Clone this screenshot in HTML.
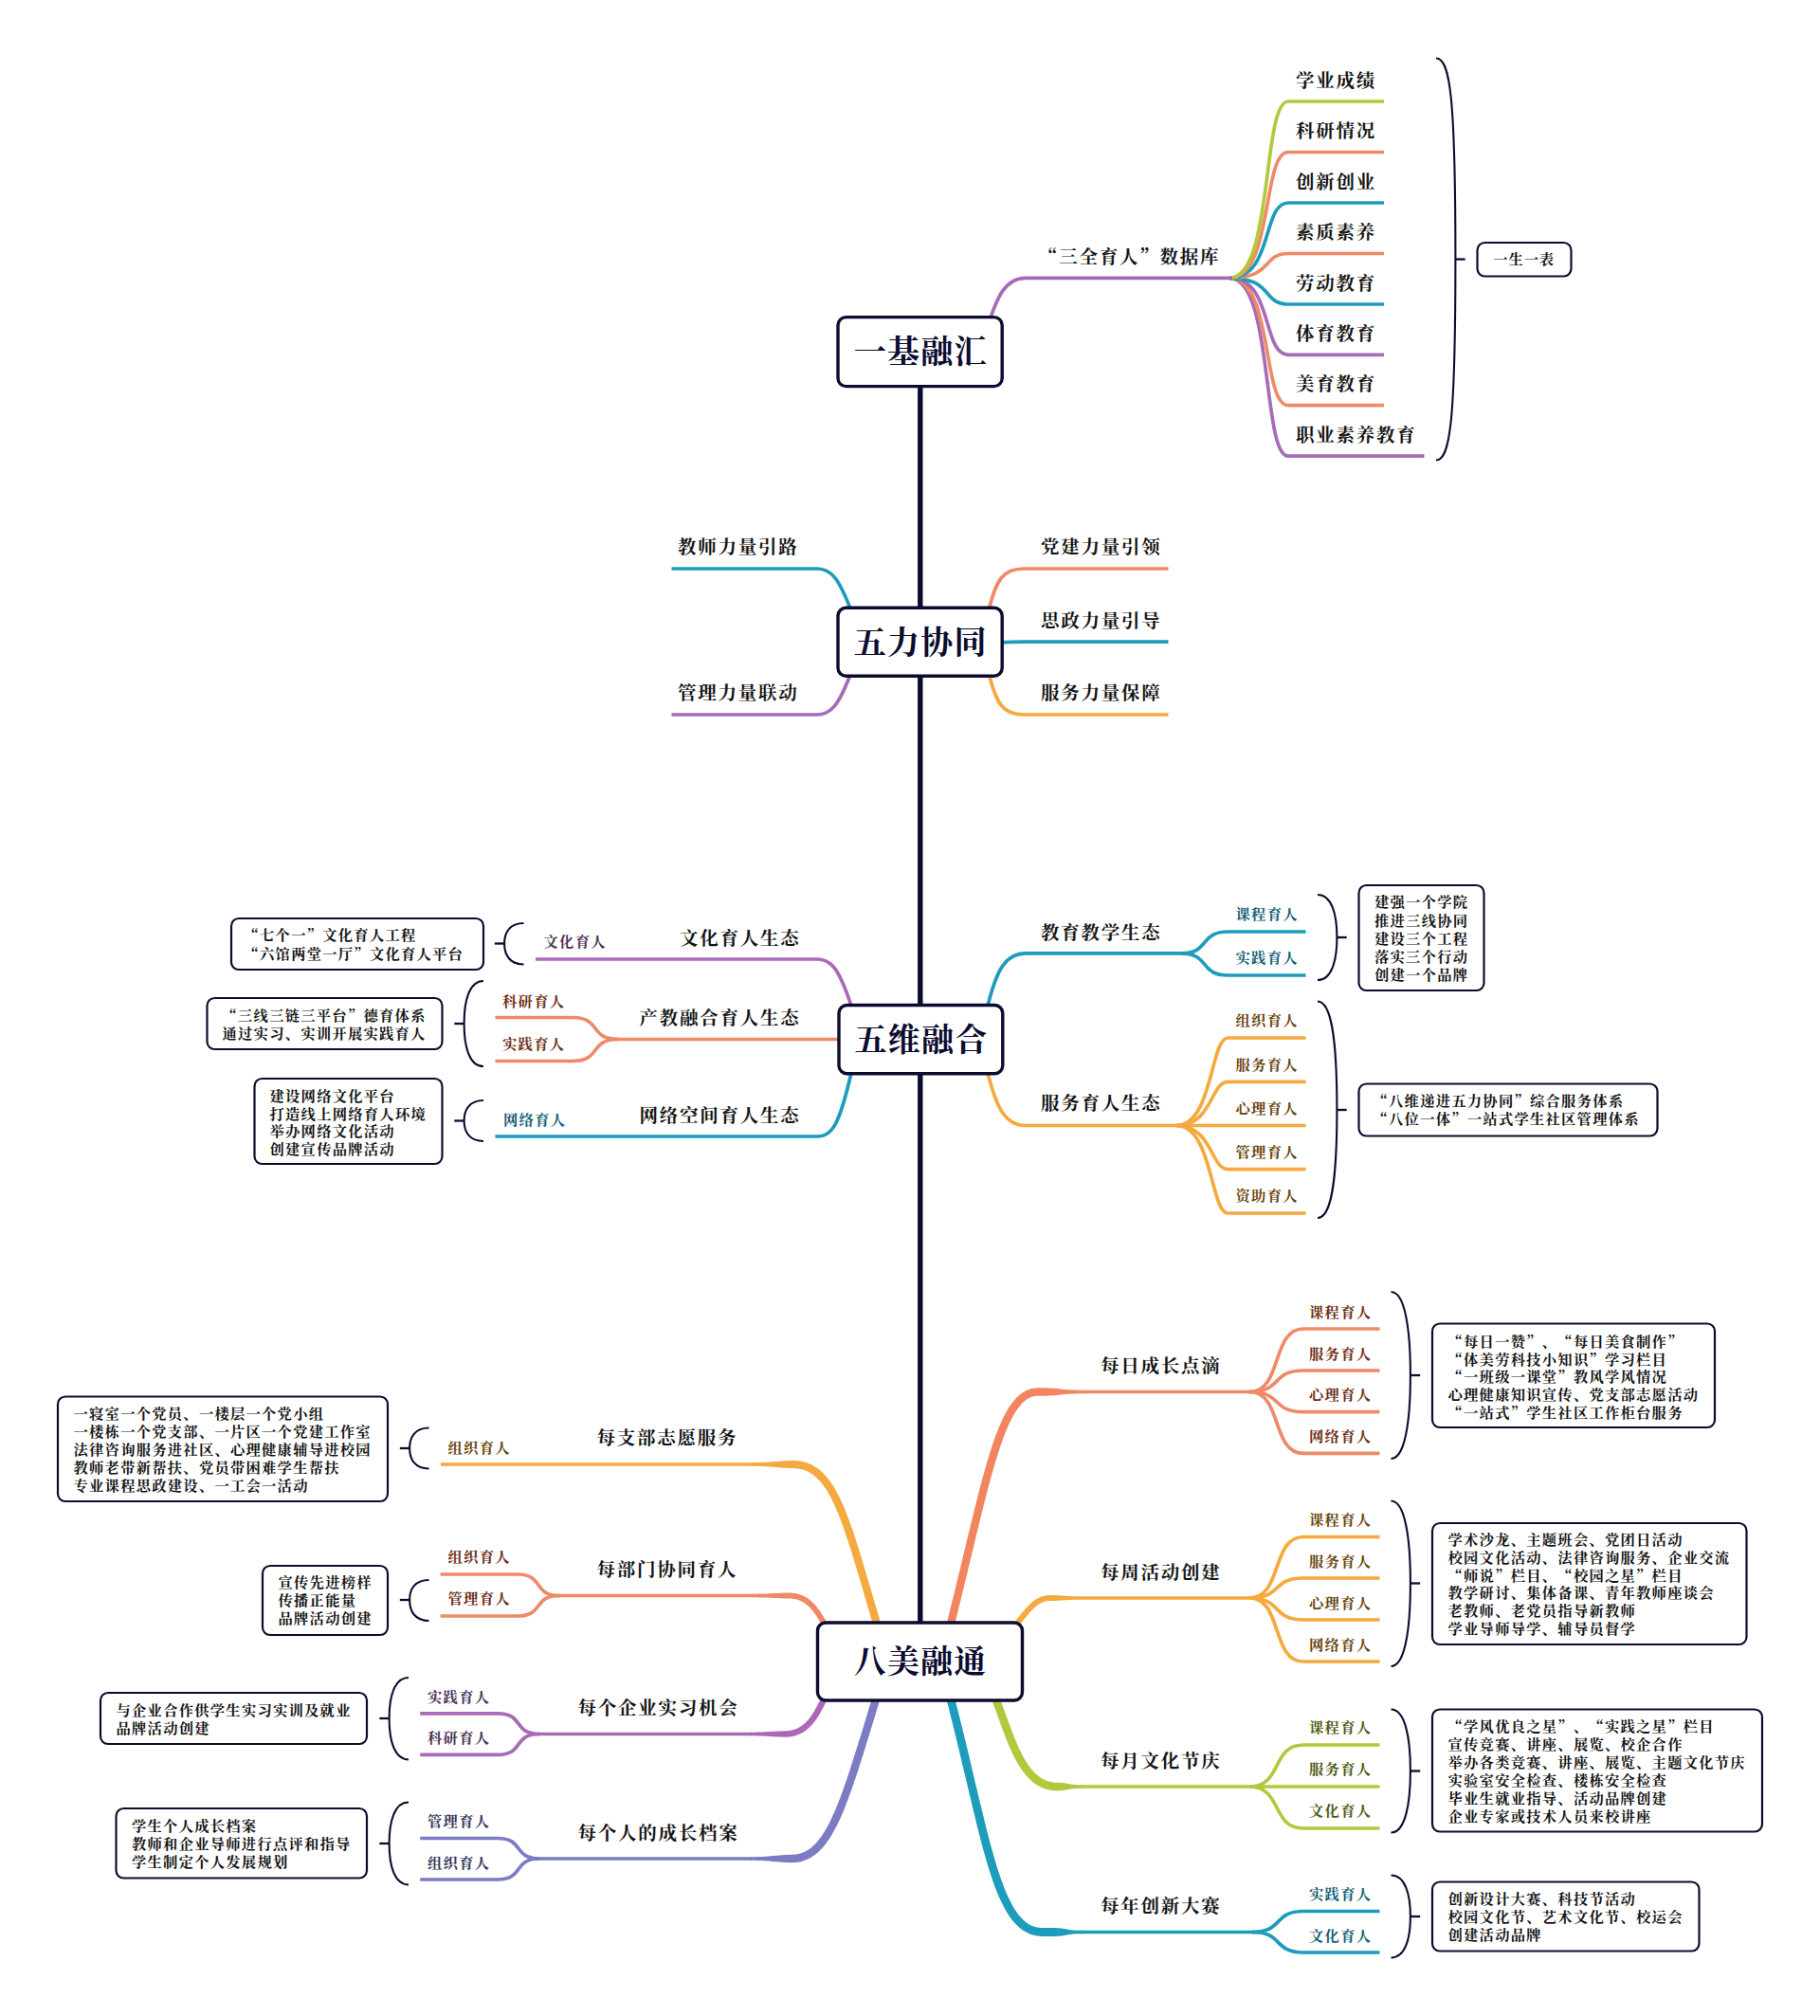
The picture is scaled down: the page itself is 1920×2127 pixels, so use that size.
<!DOCTYPE html>
<html lang="zh-CN"><head><meta charset="utf-8"><title>三全育人 思维导图</title>
<style>
html,body{margin:0;padding:0;background:#fff}
svg{display:block}
text{font-family:'Noto Serif CJK SC','Liberation Serif',serif;font-weight:700;font-kerning:none;font-feature-settings:"palt" 0,"halt" 0,"chws" 0,"kern" 0;white-space:pre}
</style></head><body>
<svg width="1920" height="2127" viewBox="0 0 1920 2127">
<rect width="1920" height="2127" fill="#fff"/>
<g>
<path d="M970.8,405 L970.8,1714" fill="none" stroke="#0c0c30" stroke-width="5.4" stroke-linecap="butt" stroke-linejoin="round"/>
<path d="M1297,293.3 C1343.5,293.3 1331.1,481.2 1359,481.2 L1502.5,481.2" fill="none" stroke="#a86bb8" stroke-width="3.7" stroke-linecap="butt" stroke-linejoin="round"/>
<path d="M1297,293.3 C1343.5,293.3 1331.1,427.7 1359,427.7 L1460,427.7" fill="none" stroke="#ee8a68" stroke-width="3.7" stroke-linecap="butt" stroke-linejoin="round"/>
<path d="M1297,293.3 C1343.5,293.3 1331.1,374.3 1359,374.3 L1460,374.3" fill="none" stroke="#a86bb8" stroke-width="3.7" stroke-linecap="butt" stroke-linejoin="round"/>
<path d="M1297,293.3 C1343.5,293.3 1331.1,321 1359,321 L1460,321" fill="none" stroke="#1d9cbb" stroke-width="3.7" stroke-linecap="butt" stroke-linejoin="round"/>
<path d="M1297,293.3 C1343.5,293.3 1331.1,267.5 1359,267.5 L1460,267.5" fill="none" stroke="#ee8a68" stroke-width="3.7" stroke-linecap="butt" stroke-linejoin="round"/>
<path d="M1297,293.3 C1343.5,293.3 1331.1,214 1359,214 L1460,214" fill="none" stroke="#1d9cbb" stroke-width="3.7" stroke-linecap="butt" stroke-linejoin="round"/>
<path d="M1297,293.3 C1343.5,293.3 1331.1,160.5 1359,160.5 L1460,160.5" fill="none" stroke="#ee8a68" stroke-width="3.7" stroke-linecap="butt" stroke-linejoin="round"/>
<path d="M1297,293.3 C1343.5,293.3 1331.1,107 1359,107 L1460,107" fill="none" stroke="#b2c93c" stroke-width="3.7" stroke-linecap="butt" stroke-linejoin="round"/>
<path d="M1045,335 C1052,315 1060,293.3 1082,293.3 L1300,293.3" fill="none" stroke="#a86bb8" stroke-width="3.7" stroke-linecap="butt" stroke-linejoin="round"/>
<path d="M708.5,600 L862,600 C877,600 885,611 897,642" fill="none" stroke="#1d9cbb" stroke-width="3.7" stroke-linecap="butt" stroke-linejoin="round"/>
<path d="M708.5,754 L862,754 C877,754 885,743 897,712" fill="none" stroke="#a86bb8" stroke-width="3.7" stroke-linecap="butt" stroke-linejoin="round"/>
<path d="M1043.5,642 C1051,612 1058,600 1080,600 L1232.5,600" fill="none" stroke="#ee8a68" stroke-width="3.7" stroke-linecap="butt" stroke-linejoin="round"/>
<path d="M1057,677.6 C1065,677.6 1070,677.2 1080,677.2 L1232.5,677.2" fill="none" stroke="#1d9cbb" stroke-width="3.7" stroke-linecap="butt" stroke-linejoin="round"/>
<path d="M1043.5,712 C1051,742 1058,754 1080,754 L1232.5,754" fill="none" stroke="#f5a93e" stroke-width="3.7" stroke-linecap="butt" stroke-linejoin="round"/>
<path d="M565,1012 L862,1012 C877,1012 885,1022 898,1061" fill="none" stroke="#a86bb8" stroke-width="3.7" stroke-linecap="butt" stroke-linejoin="round"/>
<path d="M884,1096.5 L650,1096.5" fill="none" stroke="#ee8a68" stroke-width="3.7" stroke-linecap="butt" stroke-linejoin="round"/>
<path d="M652,1096.5 C621.3,1096.5 634.7,1073.5 604,1073.5 L522.5,1073.5" fill="none" stroke="#ee8a68" stroke-width="3.7" stroke-linecap="butt" stroke-linejoin="round"/>
<path d="M652,1096.5 C621.3,1096.5 634.7,1119.5 604,1119.5 L522.5,1119.5" fill="none" stroke="#ee8a68" stroke-width="3.7" stroke-linecap="butt" stroke-linejoin="round"/>
<path d="M522.5,1199 L862,1199 C877,1199 885,1189 898,1132" fill="none" stroke="#1d9cbb" stroke-width="3.7" stroke-linecap="butt" stroke-linejoin="round"/>
<path d="M1042,1061 C1050,1030 1058,1005.9 1082,1005.9 L1248,1005.9" fill="none" stroke="#1d9cbb" stroke-width="3.7" stroke-linecap="butt" stroke-linejoin="round"/>
<path d="M1246,1005.9 C1276.7,1005.9 1264.8,983 1295.5,983 L1377.5,983" fill="none" stroke="#1d9cbb" stroke-width="3.7" stroke-linecap="butt" stroke-linejoin="round"/>
<path d="M1246,1005.9 C1276.7,1005.9 1264.8,1029 1295.5,1029 L1377.5,1029" fill="none" stroke="#1d9cbb" stroke-width="3.7" stroke-linecap="butt" stroke-linejoin="round"/>
<path d="M1042,1132 C1050,1163 1058,1187.5 1082,1187.5 L1243,1187.5" fill="none" stroke="#f5a93e" stroke-width="3.7" stroke-linecap="butt" stroke-linejoin="round"/>
<path d="M1241,1187.5 C1279.2,1187.5 1277,1095 1295.5,1095 L1377.5,1095" fill="none" stroke="#f5a93e" stroke-width="3.7" stroke-linecap="butt" stroke-linejoin="round"/>
<path d="M1241,1187.5 C1279.2,1187.5 1277,1141.3 1295.5,1141.3 L1377.5,1141.3" fill="none" stroke="#f5a93e" stroke-width="3.7" stroke-linecap="butt" stroke-linejoin="round"/>
<path d="M1241,1187.5 C1279.2,1187.5 1277,1187.5 1295.5,1187.5 L1377.5,1187.5" fill="none" stroke="#f5a93e" stroke-width="3.7" stroke-linecap="butt" stroke-linejoin="round"/>
<path d="M1241,1187.5 C1279.2,1187.5 1277,1233.7 1295.5,1233.7 L1377.5,1233.7" fill="none" stroke="#f5a93e" stroke-width="3.7" stroke-linecap="butt" stroke-linejoin="round"/>
<path d="M1241,1187.5 C1279.2,1187.5 1277,1280 1295.5,1280 L1377.5,1280" fill="none" stroke="#f5a93e" stroke-width="3.7" stroke-linecap="butt" stroke-linejoin="round"/>
<path d="M928.9,1711.8 L927.3,1706.3 L925.7,1700.9 L924.1,1695.6 L922.6,1690.4 L921.1,1685.2 L919.6,1680.2 L918.2,1675.2 L916.7,1670.3 L915.3,1665.5 L913.9,1660.9 L912.6,1656.2 L911.2,1651.7 L909.9,1647.3 L908.6,1643 L907.3,1638.7 L906,1634.6 L904.7,1630.5 L903.4,1626.5 L902.2,1622.6 L900.9,1618.8 L899.7,1615.1 L898.4,1611.5 L897.2,1607.9 L895.9,1604.5 L894.7,1601.1 L893.4,1597.9 L892.2,1594.7 L890.9,1591.6 L889.6,1588.6 L888.4,1585.7 L887.1,1582.9 L885.8,1580.1 L884.4,1577.5 L883.1,1574.9 L881.7,1572.5 L880.4,1570.1 L878.9,1567.8 L877.5,1565.6 L876.1,1563.4 L874.6,1561.4 L873,1559.5 L871.5,1557.6 L869.9,1555.9 L868.3,1554.2 L866.6,1552.6 L864.9,1551.1 L863.1,1549.7 L861.3,1548.4 L859.4,1547.2 L857.5,1546.1 L855.6,1545.1 L853.6,1544.2 L851.6,1543.5 L849.5,1542.8 L847.3,1542.2 L845.2,1541.7 L842.9,1541.4 L840.7,1541.1 L838.4,1541 L836,1540.9 L832,1541 L828,1541.3 L824,1541.6 L820,1541.9 L816,1542.2 L812,1542.6 L808,1542.8 L804,1543 L800,1543.1 L796,1543.2 L793,1543.2 L793,1546.8 L796,1546.8 L800,1546.9 L804,1547 L808,1547.2 L812,1547.4 L816,1547.8 L820,1548.1 L824,1548.4 L828,1548.7 L832,1549 L836,1549.1 L838,1549.1 L839.9,1549.3 L841.8,1549.5 L843.6,1549.8 L845.4,1550.2 L847.1,1550.6 L848.8,1551.2 L850.4,1551.8 L852,1552.5 L853.6,1553.3 L855.2,1554.2 L856.7,1555.2 L858.2,1556.3 L859.6,1557.4 L861.1,1558.7 L862.5,1560 L863.9,1561.5 L865.3,1563 L866.7,1564.6 L868,1566.4 L869.4,1568.2 L870.7,1570.1 L872,1572.1 L873.3,1574.3 L874.6,1576.5 L875.9,1578.8 L877.1,1581.2 L878.4,1583.7 L879.6,1586.3 L880.9,1589.1 L882.1,1591.9 L883.3,1594.8 L884.6,1597.8 L885.8,1600.9 L887,1604 L888.2,1607.3 L889.5,1610.7 L890.7,1614.2 L891.9,1617.7 L893.1,1621.4 L894.4,1625.2 L895.6,1629 L896.9,1633 L898.2,1637 L899.4,1641.1 L900.7,1645.4 L902,1649.7 L903.4,1654.1 L904.7,1658.6 L906.1,1663.2 L907.5,1667.9 L908.9,1672.6 L910.3,1677.5 L911.7,1682.5 L913.2,1687.5 L914.7,1692.7 L916.3,1697.9 L917.8,1703.2 L919.4,1708.7 L921.1,1714.2Z" fill="#f5a93e" stroke="none"/>
<path d="M795,1545 L465,1545" fill="none" stroke="#f5a93e" stroke-width="3.7" stroke-linecap="butt" stroke-linejoin="round"/>
<path d="M872.1,1711.5 L871.7,1710.8 L871.3,1710 L870.8,1709.3 L870.4,1708.5 L869.9,1707.8 L869.5,1707 L869.1,1706.3 L868.6,1705.5 L868.2,1704.8 L867.7,1704 L867.2,1703.3 L866.8,1702.6 L866.3,1701.8 L865.8,1701.1 L865.4,1700.4 L864.9,1699.7 L864.4,1699 L863.9,1698.3 L863.3,1697.6 L862.8,1696.9 L862.3,1696.2 L861.8,1695.5 L861.2,1694.8 L860.7,1694.2 L860.1,1693.5 L859.5,1692.9 L858.9,1692.3 L858.3,1691.6 L857.7,1691 L857.1,1690.4 L856.5,1689.9 L855.9,1689.3 L855.2,1688.7 L854.5,1688.2 L853.8,1687.7 L853.2,1687.1 L852.4,1686.6 L851.7,1686.1 L851,1685.7 L850.2,1685.2 L849.5,1684.8 L848.7,1684.4 L847.9,1684 L847.1,1683.6 L846.3,1683.2 L845.4,1682.9 L844.6,1682.6 L843.7,1682.3 L842.8,1682 L841.9,1681.7 L841,1681.5 L840.1,1681.3 L839.1,1681.1 L838.1,1681 L837.2,1680.8 L836.2,1680.7 L835.1,1680.6 L834.1,1680.6 L833.1,1680.5 L832,1680.5 L828,1680.6 L824,1680.7 L820,1680.9 L816,1681.1 L812,1681.3 L808,1681.5 L804,1681.6 L800,1681.6 L796,1681.7 L793,1681.7 L793,1685.3 L796,1685.3 L800,1685.4 L804,1685.4 L808,1685.5 L812,1685.7 L816,1685.9 L820,1686.1 L824,1686.3 L828,1686.4 L832,1686.5 L832.9,1686.5 L833.8,1686.5 L834.7,1686.6 L835.6,1686.7 L836.4,1686.8 L837.2,1686.9 L838,1687 L838.8,1687.2 L839.6,1687.3 L840.4,1687.5 L841.1,1687.8 L841.8,1688 L842.5,1688.2 L843.2,1688.5 L843.9,1688.8 L844.6,1689.1 L845.3,1689.4 L845.9,1689.7 L846.6,1690 L847.2,1690.4 L847.8,1690.8 L848.4,1691.2 L849,1691.6 L849.6,1692 L850.2,1692.4 L850.8,1692.9 L851.4,1693.3 L851.9,1693.8 L852.5,1694.3 L853,1694.8 L853.5,1695.3 L854.1,1695.8 L854.6,1696.4 L855.1,1696.9 L855.6,1697.5 L856.1,1698.1 L856.6,1698.7 L857.1,1699.3 L857.6,1699.9 L858.1,1700.5 L858.5,1701.1 L859,1701.8 L859.5,1702.4 L859.9,1703.1 L860.4,1703.7 L860.8,1704.4 L861.3,1705.1 L861.7,1705.8 L862.2,1706.5 L862.6,1707.2 L863,1707.9 L863.5,1708.6 L863.9,1709.3 L864.3,1710.1 L864.8,1710.8 L865.2,1711.5 L865.6,1712.3 L866,1713 L866.5,1713.7 L866.9,1714.5Z" fill="#ee8a68" stroke="none"/>
<path d="M795,1683.5 L588,1683.5" fill="none" stroke="#ee8a68" stroke-width="3.7" stroke-linecap="butt" stroke-linejoin="round"/>
<path d="M590,1683.5 C561.8,1683.5 574.2,1661 546,1661 L464.6,1661" fill="none" stroke="#ee8a68" stroke-width="3.7" stroke-linecap="butt" stroke-linejoin="round"/>
<path d="M590,1683.5 C561.8,1683.5 574.2,1705 546,1705 L464.6,1705" fill="none" stroke="#ee8a68" stroke-width="3.7" stroke-linecap="butt" stroke-linejoin="round"/>
<path d="M866.1,1791.6 L865.6,1792.5 L865.2,1793.5 L864.7,1794.4 L864.3,1795.3 L863.8,1796.3 L863.4,1797.2 L862.9,1798.1 L862.4,1799 L862,1799.9 L861.5,1800.8 L861,1801.6 L860.5,1802.5 L860.1,1803.4 L859.6,1804.2 L859.1,1805.1 L858.6,1805.9 L858.1,1806.7 L857.6,1807.5 L857.1,1808.3 L856.6,1809.1 L856,1809.9 L855.5,1810.6 L855,1811.4 L854.4,1812.1 L853.9,1812.8 L853.3,1813.5 L852.8,1814.2 L852.2,1814.9 L851.6,1815.5 L851,1816.1 L850.4,1816.8 L849.8,1817.4 L849.2,1817.9 L848.6,1818.5 L847.9,1819.1 L847.3,1819.6 L846.7,1820.1 L846,1820.6 L845.3,1821.1 L844.6,1821.5 L843.9,1822 L843.2,1822.4 L842.5,1822.8 L841.8,1823.2 L841.1,1823.5 L840.3,1823.9 L839.5,1824.2 L838.7,1824.5 L837.9,1824.7 L837.1,1825 L836.3,1825.2 L835.5,1825.4 L834.6,1825.6 L833.7,1825.8 L832.8,1825.9 L831.9,1826 L830.9,1826.1 L830,1826.2 L829,1826.2 L828,1826.3 L824,1826.4 L820,1826.6 L816,1826.8 L812,1827 L808,1827.3 L804,1827.5 L800,1827.6 L796,1827.7 L792,1827.7 L791,1827.7 L791,1831.3 L792,1831.3 L796,1831.3 L800,1831.4 L804,1831.5 L808,1831.7 L812,1832 L816,1832.2 L820,1832.4 L824,1832.6 L828,1832.7 L829.2,1832.7 L830.3,1832.7 L831.5,1832.6 L832.6,1832.5 L833.7,1832.4 L834.8,1832.2 L835.9,1832 L836.9,1831.8 L838,1831.5 L839,1831.2 L840,1830.9 L841,1830.6 L841.9,1830.2 L842.9,1829.8 L843.8,1829.4 L844.7,1829 L845.6,1828.5 L846.5,1828 L847.3,1827.5 L848.2,1827 L849,1826.4 L849.8,1825.9 L850.6,1825.3 L851.4,1824.7 L852.1,1824 L852.9,1823.4 L853.6,1822.7 L854.3,1822 L855,1821.3 L855.7,1820.6 L856.4,1819.9 L857.1,1819.1 L857.7,1818.4 L858.4,1817.6 L859,1816.8 L859.6,1816 L860.2,1815.2 L860.8,1814.4 L861.4,1813.6 L862,1812.7 L862.5,1811.9 L863.1,1811 L863.6,1810.1 L864.2,1809.3 L864.7,1808.4 L865.2,1807.5 L865.7,1806.6 L866.2,1805.7 L866.7,1804.8 L867.2,1803.8 L867.7,1802.9 L868.2,1802 L868.7,1801 L869.2,1800.1 L869.6,1799.2 L870.1,1798.2 L870.6,1797.3 L871,1796.3 L871.5,1795.3 L871.9,1794.4Z" fill="#ad66b8" stroke="none"/>
<path d="M793,1829.5 L567,1829.5" fill="none" stroke="#a86bb8" stroke-width="3.7" stroke-linecap="butt" stroke-linejoin="round"/>
<path d="M569,1829.5 C540.8,1829.5 553.2,1807.8 525,1807.8 L443.2,1807.8" fill="none" stroke="#a86bb8" stroke-width="3.7" stroke-linecap="butt" stroke-linejoin="round"/>
<path d="M569,1829.5 C540.8,1829.5 553.2,1851.4 525,1851.4 L443.2,1851.4" fill="none" stroke="#a86bb8" stroke-width="3.7" stroke-linecap="butt" stroke-linejoin="round"/>
<path d="M920,1791.8 L918.3,1797.3 L916.6,1802.7 L915,1808 L913.4,1813.3 L911.9,1818.4 L910.3,1823.4 L908.8,1828.4 L907.3,1833.3 L905.8,1838.1 L904.4,1842.7 L902.9,1847.3 L901.5,1851.8 L900.1,1856.2 L898.7,1860.6 L897.4,1864.8 L896,1868.9 L894.7,1872.9 L893.4,1876.9 L892,1880.7 L890.7,1884.5 L889.4,1888.2 L888.2,1891.7 L886.9,1895.2 L885.6,1898.6 L884.3,1901.9 L883,1905.1 L881.8,1908.2 L880.5,1911.2 L879.2,1914.1 L877.9,1916.9 L876.7,1919.6 L875.4,1922.2 L874.1,1924.7 L872.8,1927.1 L871.5,1929.4 L870.2,1931.7 L868.9,1933.8 L867.6,1935.8 L866.3,1937.8 L864.9,1939.6 L863.6,1941.3 L862.2,1943 L860.9,1944.5 L859.5,1945.9 L858.1,1947.3 L856.7,1948.5 L855.3,1949.7 L853.9,1950.8 L852.5,1951.7 L851,1952.6 L849.6,1953.4 L848.1,1954.1 L846.6,1954.8 L845,1955.3 L843.4,1955.8 L841.8,1956.1 L840.2,1956.4 L838.5,1956.6 L836.8,1956.8 L835,1956.8 L831,1956.9 L827,1957.1 L823,1957.4 L819,1957.8 L815,1958.1 L811,1958.5 L807,1958.8 L803,1959 L799,1959.1 L795,1959.2 L791,1959.2 L791,1962.8 L795,1962.8 L799,1962.9 L803,1963 L807,1963.2 L811,1963.5 L815,1963.9 L819,1964.2 L823,1964.6 L827,1964.9 L831,1965.1 L835,1965.2 L837.2,1965.1 L839.3,1965 L841.4,1964.7 L843.5,1964.4 L845.6,1963.9 L847.6,1963.3 L849.5,1962.6 L851.5,1961.8 L853.4,1960.9 L855.2,1959.9 L857,1958.8 L858.8,1957.6 L860.5,1956.3 L862.2,1954.9 L863.9,1953.4 L865.5,1951.8 L867.1,1950.2 L868.6,1948.4 L870.2,1946.6 L871.7,1944.6 L873.1,1942.6 L874.6,1940.5 L876,1938.3 L877.4,1936 L878.8,1933.6 L880.2,1931.1 L881.5,1928.6 L882.9,1925.9 L884.2,1923.2 L885.6,1920.4 L886.9,1917.5 L888.2,1914.5 L889.5,1911.4 L890.8,1908.2 L892.1,1904.9 L893.4,1901.6 L894.7,1898.1 L896,1894.6 L897.3,1891 L898.7,1887.3 L900,1883.5 L901.3,1879.6 L902.7,1875.6 L904,1871.5 L905.4,1867.4 L906.7,1863.1 L908.1,1858.8 L909.5,1854.4 L911,1849.8 L912.4,1845.2 L913.8,1840.5 L915.3,1835.7 L916.8,1830.9 L918.3,1825.9 L919.9,1820.8 L921.5,1815.7 L923.1,1810.5 L924.7,1805.1 L926.3,1799.7 L928,1794.2Z" fill="#7c7cc4" stroke="none"/>
<path d="M793,1961 L567,1961" fill="none" stroke="#7c7cc4" stroke-width="3.7" stroke-linecap="butt" stroke-linejoin="round"/>
<path d="M569,1961 C540.8,1961 553.2,1939.5 525,1939.5 L443.2,1939.5" fill="none" stroke="#7c7cc4" stroke-width="3.7" stroke-linecap="butt" stroke-linejoin="round"/>
<path d="M569,1961 C540.8,1961 553.2,1983 525,1983 L443.2,1983" fill="none" stroke="#7c7cc4" stroke-width="3.7" stroke-linecap="butt" stroke-linejoin="round"/>
<path d="M1007.1,1714 L1009,1706.5 L1010.8,1699.1 L1012.6,1691.8 L1014.4,1684.6 L1016.1,1677.5 L1017.8,1670.4 L1019.5,1663.5 L1021.1,1656.7 L1022.7,1650 L1024.3,1643.4 L1025.9,1636.9 L1027.4,1630.6 L1028.9,1624.3 L1030.4,1618.1 L1031.9,1612.1 L1033.3,1606.1 L1034.7,1600.3 L1036.1,1594.6 L1037.5,1589 L1038.9,1583.5 L1040.3,1578.2 L1041.6,1572.9 L1043,1567.8 L1044.3,1562.8 L1045.7,1557.9 L1047,1553.2 L1048.3,1548.5 L1049.6,1544 L1050.9,1539.6 L1052.3,1535.4 L1053.6,1531.3 L1054.9,1527.3 L1056.2,1523.4 L1057.5,1519.7 L1058.9,1516.1 L1060.2,1512.6 L1061.5,1509.3 L1062.9,1506.1 L1064.2,1503.1 L1065.6,1500.2 L1067,1497.4 L1068.4,1494.8 L1069.8,1492.3 L1071.2,1490 L1072.6,1487.8 L1074,1485.8 L1075.4,1483.9 L1076.9,1482.2 L1078.3,1480.6 L1079.8,1479.2 L1081.2,1477.9 L1082.7,1476.8 L1084.2,1475.8 L1085.7,1475 L1087.2,1474.3 L1088.7,1473.7 L1090.2,1473.3 L1091.8,1473 L1093.4,1472.8 L1095.1,1472.7 L1099,1472.7 L1103,1472.7 L1107,1472.6 L1111,1472.3 L1115,1471.9 L1119,1471.5 L1123,1471.1 L1127,1470.8 L1131,1470.5 L1135,1470.4 L1139,1470.3 L1142,1470.3 L1142,1466.7 L1139,1466.7 L1135,1466.6 L1131,1466.5 L1127,1466.2 L1123,1465.9 L1119,1465.5 L1115,1465.1 L1111,1464.7 L1107,1464.4 L1103,1464.3 L1099,1464.3 L1094.9,1464.3 L1092.7,1464.4 L1090.4,1464.7 L1088.2,1465.1 L1086,1465.8 L1083.9,1466.6 L1081.8,1467.5 L1079.8,1468.7 L1077.8,1470 L1075.9,1471.4 L1074.1,1473 L1072.3,1474.8 L1070.6,1476.7 L1068.9,1478.7 L1067.2,1480.8 L1065.6,1483.1 L1064,1485.5 L1062.5,1488.1 L1061,1490.8 L1059.5,1493.6 L1058,1496.5 L1056.6,1499.6 L1055.2,1502.8 L1053.8,1506.1 L1052.4,1509.5 L1051,1513.1 L1049.6,1516.8 L1048.3,1520.6 L1046.9,1524.6 L1045.6,1528.7 L1044.2,1532.9 L1042.9,1537.2 L1041.6,1541.6 L1040.2,1546.2 L1038.9,1550.9 L1037.6,1555.7 L1036.2,1560.6 L1034.9,1565.6 L1033.5,1570.8 L1032.2,1576.1 L1030.8,1581.5 L1029.4,1587 L1028,1592.6 L1026.6,1598.3 L1025.1,1604.2 L1023.7,1610.1 L1022.2,1616.2 L1020.7,1622.3 L1019.2,1628.6 L1017.7,1635 L1016.1,1641.5 L1014.6,1648.1 L1013,1654.8 L1011.3,1661.6 L1009.6,1668.5 L1007.9,1675.5 L1006.2,1682.6 L1004.4,1689.8 L1002.6,1697.1 L1000.8,1704.5 L998.9,1712Z" fill="#f2855f" stroke="none"/>
<path d="M1140,1468.5 L1320,1468.5" fill="none" stroke="#ee8a68" stroke-width="3.7" stroke-linecap="butt" stroke-linejoin="round"/>
<path d="M1318,1468.5 C1353.3,1468.5 1340.8,1402 1375,1402 L1455.5,1402" fill="none" stroke="#ee8a68" stroke-width="3.7" stroke-linecap="butt" stroke-linejoin="round"/>
<path d="M1318,1468.5 C1353.3,1468.5 1340.8,1446 1375,1446 L1455.5,1446" fill="none" stroke="#ee8a68" stroke-width="3.7" stroke-linecap="butt" stroke-linejoin="round"/>
<path d="M1318,1468.5 C1353.3,1468.5 1340.8,1489.7 1375,1489.7 L1455.5,1489.7" fill="none" stroke="#ee8a68" stroke-width="3.7" stroke-linecap="butt" stroke-linejoin="round"/>
<path d="M1318,1468.5 C1353.3,1468.5 1340.8,1533.3 1375,1533.3 L1455.5,1533.3" fill="none" stroke="#ee8a68" stroke-width="3.7" stroke-linecap="butt" stroke-linejoin="round"/>
<path d="M1075.3,1714.9 L1075.9,1714.1 L1076.5,1713.4 L1077.1,1712.6 L1077.7,1711.9 L1078.3,1711.2 L1078.8,1710.5 L1079.4,1709.7 L1080,1709 L1080.5,1708.3 L1081.1,1707.7 L1081.6,1707 L1082.1,1706.3 L1082.7,1705.7 L1083.2,1705 L1083.7,1704.4 L1084.3,1703.7 L1084.8,1703.1 L1085.3,1702.5 L1085.8,1701.9 L1086.3,1701.3 L1086.8,1700.7 L1087.3,1700.2 L1087.9,1699.6 L1088.4,1699.1 L1088.9,1698.5 L1089.4,1698 L1089.9,1697.5 L1090.4,1697 L1090.9,1696.6 L1091.4,1696.1 L1091.9,1695.6 L1092.4,1695.2 L1092.9,1694.8 L1093.4,1694.4 L1093.9,1694 L1094.4,1693.6 L1094.9,1693.2 L1095.4,1692.9 L1096,1692.6 L1096.5,1692.2 L1097,1691.9 L1097.5,1691.6 L1098,1691.4 L1098.6,1691.1 L1099.1,1690.8 L1099.7,1690.6 L1100.2,1690.4 L1100.7,1690.2 L1101.3,1690 L1101.9,1689.8 L1102.4,1689.7 L1103,1689.5 L1103.6,1689.4 L1104.2,1689.3 L1104.8,1689.2 L1105.4,1689.1 L1106,1689.1 L1106.7,1689 L1107.3,1689 L1108,1689 L1112,1688.9 L1116,1688.7 L1120,1688.5 L1124,1688.2 L1128,1687.9 L1132,1687.8 L1136,1687.8 L1138,1687.8 L1138,1684.2 L1136,1684.2 L1132,1684.2 L1128,1684.1 L1124,1683.8 L1120,1683.5 L1116,1683.3 L1112,1683.1 L1108,1683 L1107.2,1683 L1106.4,1683 L1105.6,1683.1 L1104.8,1683.2 L1104,1683.3 L1103.2,1683.4 L1102.4,1683.5 L1101.7,1683.7 L1100.9,1683.9 L1100.2,1684.1 L1099.5,1684.3 L1098.8,1684.5 L1098.1,1684.8 L1097.4,1685.1 L1096.7,1685.4 L1096,1685.7 L1095.3,1686 L1094.7,1686.4 L1094,1686.7 L1093.4,1687.1 L1092.7,1687.5 L1092.1,1687.9 L1091.5,1688.3 L1090.9,1688.8 L1090.3,1689.2 L1089.7,1689.7 L1089.1,1690.2 L1088.5,1690.6 L1087.9,1691.1 L1087.4,1691.7 L1086.8,1692.2 L1086.2,1692.7 L1085.7,1693.3 L1085.1,1693.8 L1084.6,1694.4 L1084,1695 L1083.5,1695.5 L1082.9,1696.1 L1082.4,1696.7 L1081.8,1697.4 L1081.3,1698 L1080.7,1698.6 L1080.2,1699.2 L1079.7,1699.9 L1079.1,1700.5 L1078.6,1701.2 L1078,1701.9 L1077.5,1702.5 L1076.9,1703.2 L1076.4,1703.9 L1075.8,1704.6 L1075.3,1705.3 L1074.7,1706 L1074.1,1706.7 L1073.6,1707.5 L1073,1708.2 L1072.4,1708.9 L1071.8,1709.6 L1071.3,1710.4 L1070.7,1711.1Z" fill="#f5a93e" stroke="none"/>
<path d="M1136,1686 L1320,1686" fill="none" stroke="#f5a93e" stroke-width="3.7" stroke-linecap="butt" stroke-linejoin="round"/>
<path d="M1318,1686 C1353.3,1686 1340.8,1621.5 1375,1621.5 L1455.5,1621.5" fill="none" stroke="#f5a93e" stroke-width="3.7" stroke-linecap="butt" stroke-linejoin="round"/>
<path d="M1318,1686 C1353.3,1686 1340.8,1665 1375,1665 L1455.5,1665" fill="none" stroke="#f5a93e" stroke-width="3.7" stroke-linecap="butt" stroke-linejoin="round"/>
<path d="M1318,1686 C1353.3,1686 1340.8,1709 1375,1709 L1455.5,1709" fill="none" stroke="#f5a93e" stroke-width="3.7" stroke-linecap="butt" stroke-linejoin="round"/>
<path d="M1318,1686 C1353.3,1686 1340.8,1753 1375,1753 L1455.5,1753" fill="none" stroke="#f5a93e" stroke-width="3.7" stroke-linecap="butt" stroke-linejoin="round"/>
<path d="M1046.5,1794.6 L1047.3,1796.5 L1048,1798.5 L1048.8,1800.5 L1049.5,1802.5 L1050.3,1804.5 L1051,1806.5 L1051.8,1808.6 L1052.5,1810.7 L1053.3,1812.7 L1054,1814.8 L1054.8,1816.9 L1055.6,1819 L1056.3,1821.1 L1057.1,1823.2 L1057.9,1825.3 L1058.7,1827.4 L1059.5,1829.5 L1060.3,1831.6 L1061.1,1833.7 L1061.9,1835.8 L1062.7,1837.8 L1063.6,1839.9 L1064.4,1841.9 L1065.3,1844 L1066.2,1846 L1067.1,1847.9 L1068,1849.9 L1069,1851.8 L1069.9,1853.7 L1070.9,1855.6 L1071.9,1857.5 L1072.9,1859.3 L1073.9,1861.1 L1075,1862.9 L1076.1,1864.6 L1077.2,1866.3 L1078.4,1867.9 L1079.5,1869.5 L1080.8,1871.1 L1082,1872.6 L1083.3,1874.1 L1084.6,1875.5 L1085.9,1876.8 L1087.3,1878.1 L1088.7,1879.4 L1090.2,1880.6 L1091.7,1881.7 L1093.2,1882.8 L1094.8,1883.8 L1096.4,1884.7 L1098.1,1885.5 L1099.8,1886.3 L1101.6,1887 L1103.4,1887.6 L1105.2,1888.1 L1107.1,1888.5 L1109,1888.9 L1111,1889.1 L1113,1889.3 L1115,1889.3 L1119,1889.2 L1123,1888.7 L1127,1888 L1131,1887.3 L1135,1886.9 L1139,1886.8 L1142,1886.8 L1142,1883.2 L1139,1883.2 L1135,1883.1 L1131,1882.7 L1127,1882 L1123,1881.3 L1119,1880.8 L1115,1880.7 L1113.4,1880.7 L1111.8,1880.5 L1110.3,1880.4 L1108.8,1880.1 L1107.3,1879.8 L1105.9,1879.4 L1104.5,1878.9 L1103.1,1878.4 L1101.8,1877.8 L1100.5,1877.1 L1099.2,1876.4 L1097.9,1875.6 L1096.7,1874.7 L1095.5,1873.8 L1094.3,1872.8 L1093.1,1871.8 L1091.9,1870.7 L1090.8,1869.5 L1089.7,1868.3 L1088.6,1867 L1087.5,1865.7 L1086.4,1864.3 L1085.4,1862.9 L1084.3,1861.4 L1083.3,1859.9 L1082.3,1858.3 L1081.3,1856.7 L1080.4,1855.1 L1079.4,1853.4 L1078.5,1851.6 L1077.6,1849.8 L1076.7,1848 L1075.8,1846.2 L1074.9,1844.3 L1074,1842.4 L1073.2,1840.5 L1072.3,1838.6 L1071.5,1836.6 L1070.7,1834.6 L1069.9,1832.6 L1069.1,1830.6 L1068.3,1828.5 L1067.5,1826.5 L1066.7,1824.4 L1065.9,1822.3 L1065.2,1820.2 L1064.4,1818.2 L1063.6,1816.1 L1062.9,1814 L1062.1,1811.9 L1061.4,1809.8 L1060.6,1807.7 L1059.9,1805.6 L1059.1,1803.6 L1058.4,1801.5 L1057.6,1799.5 L1056.8,1797.4 L1056.1,1795.4 L1055.3,1793.4 L1054.5,1791.4Z" fill="#b2c93c" stroke="none"/>
<path d="M1140,1885 L1320,1885" fill="none" stroke="#b2c93c" stroke-width="3.7" stroke-linecap="butt" stroke-linejoin="round"/>
<path d="M1318,1885 C1353.3,1885 1340.8,1841 1375,1841 L1455.5,1841" fill="none" stroke="#b2c93c" stroke-width="3.7" stroke-linecap="butt" stroke-linejoin="round"/>
<path d="M1318,1885 C1353.3,1885 1340.8,1885 1375,1885 L1455.5,1885" fill="none" stroke="#b2c93c" stroke-width="3.7" stroke-linecap="butt" stroke-linejoin="round"/>
<path d="M1318,1885 C1353.3,1885 1340.8,1929 1375,1929 L1455.5,1929" fill="none" stroke="#b2c93c" stroke-width="3.7" stroke-linecap="butt" stroke-linejoin="round"/>
<path d="M998.7,1794.1 L1000.7,1801.6 L1002.5,1809.1 L1004.4,1816.4 L1006.2,1823.7 L1007.9,1830.8 L1009.6,1837.8 L1011.3,1844.8 L1012.9,1851.6 L1014.5,1858.4 L1016.1,1865 L1017.7,1871.5 L1019.2,1877.9 L1020.7,1884.2 L1022.1,1890.4 L1023.6,1896.5 L1025,1902.5 L1026.4,1908.3 L1027.8,1914.1 L1029.2,1919.7 L1030.5,1925.3 L1031.9,1930.7 L1033.2,1936 L1034.6,1941.2 L1035.9,1946.2 L1037.2,1951.2 L1038.6,1956 L1039.9,1960.7 L1041.2,1965.3 L1042.6,1969.7 L1043.9,1974.1 L1045.3,1978.3 L1046.7,1982.4 L1048,1986.4 L1049.4,1990.2 L1050.8,1993.9 L1052.3,1997.5 L1053.7,2001 L1055.2,2004.3 L1056.7,2007.6 L1058.3,2010.6 L1059.8,2013.6 L1061.5,2016.4 L1063.1,2019.1 L1064.8,2021.7 L1066.5,2024.1 L1068.3,2026.4 L1070.2,2028.6 L1072.1,2030.6 L1074.1,2032.5 L1076.1,2034.3 L1078.2,2035.9 L1080.3,2037.3 L1082.6,2038.6 L1084.9,2039.7 L1087.2,2040.7 L1089.7,2041.5 L1092.2,2042.1 L1094.7,2042.5 L1097.3,2042.8 L1099.9,2042.9 L1104,2042.9 L1108,2042.9 L1112,2042.9 L1116,2042.8 L1120,2042.4 L1124,2041.8 L1128,2041.1 L1132,2040.6 L1136,2040.3 L1140,2040.3 L1142,2040.3 L1142,2036.7 L1140,2036.7 L1136,2036.7 L1132,2036.4 L1128,2035.9 L1124,2035.2 L1120,2034.6 L1116,2034.2 L1112,2034.1 L1108,2034.1 L1104,2034.1 L1100.1,2034.1 L1097.9,2034 L1095.9,2033.8 L1094,2033.5 L1092.1,2033 L1090.3,2032.4 L1088.5,2031.7 L1086.7,2030.9 L1085,2029.9 L1083.3,2028.7 L1081.6,2027.5 L1080,2026 L1078.4,2024.5 L1076.8,2022.8 L1075.2,2020.9 L1073.6,2018.9 L1072.1,2016.7 L1070.5,2014.4 L1069,2012 L1067.6,2009.4 L1066.1,2006.6 L1064.7,2003.7 L1063.2,2000.7 L1061.8,1997.5 L1060.4,1994.2 L1059,1990.7 L1057.7,1987.1 L1056.3,1983.4 L1055,1979.6 L1053.6,1975.6 L1052.3,1971.4 L1051,1967.2 L1049.7,1962.8 L1048.4,1958.3 L1047.1,1953.6 L1045.7,1948.8 L1044.4,1943.9 L1043.1,1938.9 L1041.8,1933.8 L1040.4,1928.5 L1039.1,1923.1 L1037.7,1917.6 L1036.4,1912 L1035,1906.3 L1033.6,1900.4 L1032.1,1894.5 L1030.7,1888.4 L1029.2,1882.2 L1027.7,1875.9 L1026.2,1869.5 L1024.7,1862.9 L1023.1,1856.3 L1021.5,1849.6 L1019.9,1842.7 L1018.2,1835.8 L1016.5,1828.7 L1014.7,1821.6 L1012.9,1814.3 L1011.1,1806.9 L1009.2,1799.5 L1007.3,1791.9Z" fill="#1d9cbb" stroke="none"/>
<path d="M1140,2038.5 L1323,2038.5" fill="none" stroke="#1d9cbb" stroke-width="3.7" stroke-linecap="butt" stroke-linejoin="round"/>
<path d="M1321,2038.5 C1354.5,2038.5 1342.6,2016.5 1375,2016.5 L1455.5,2016.5" fill="none" stroke="#1d9cbb" stroke-width="3.7" stroke-linecap="butt" stroke-linejoin="round"/>
<path d="M1321,2038.5 C1354.5,2038.5 1342.6,2060 1375,2060 L1455.5,2060" fill="none" stroke="#1d9cbb" stroke-width="3.7" stroke-linecap="butt" stroke-linejoin="round"/>
</g>
<g>
<text x="1096" y="277.5" font-size="19.5" fill="#141414" letter-spacing="1.75">“三全育人”数据库</text>
<text x="1367" y="91.7" font-size="19.5" fill="#141414" letter-spacing="1.75">学业成绩</text>
<text x="1367" y="145.2" font-size="19.5" fill="#141414" letter-spacing="1.75">科研情况</text>
<text x="1367" y="198.7" font-size="19.5" fill="#141414" letter-spacing="1.75">创新创业</text>
<text x="1367" y="252.2" font-size="19.5" fill="#141414" letter-spacing="1.75">素质素养</text>
<text x="1367" y="305.7" font-size="19.5" fill="#141414" letter-spacing="1.75">劳动教育</text>
<text x="1367" y="359" font-size="19.5" fill="#141414" letter-spacing="1.75">体育教育</text>
<text x="1367" y="412.4" font-size="19.5" fill="#141414" letter-spacing="1.75">美育教育</text>
<text x="1367" y="465.9" font-size="19.5" fill="#141414" letter-spacing="1.75">职业素养教育</text>
<path d="M1515,61.5 C1529.7,61.5 1535.4,101.5 1535.4,273.5 C1535.4,445.5 1529.7,485.5 1515,485.5" fill="none" stroke="#0c0c30" stroke-width="2.1" stroke-linecap="butt" stroke-linejoin="round"/>
<path d="M1535.4,273.5 L1545.7,273.5" fill="none" stroke="#0c0c30" stroke-width="2.3" stroke-linecap="butt" stroke-linejoin="round"/>
<rect x="1558.5" y="256" width="99" height="35.5" rx="8" ry="8" fill="#fff" stroke="#0c0c30" stroke-width="2.2"/>
<text x="1575.5" y="279.3" font-size="15" fill="#141414" letter-spacing="1.20">一生一表</text>
<text x="715" y="584" font-size="19.5" fill="#141414" letter-spacing="1.75">教师力量引路</text>
<text x="715" y="738" font-size="19.5" fill="#141414" letter-spacing="1.75">管理力量联动</text>
<text x="1098" y="584" font-size="19.5" fill="#141414" letter-spacing="1.75">党建力量引领</text>
<text x="1098" y="661.5" font-size="19.5" fill="#141414" letter-spacing="1.75">思政力量引导</text>
<text x="1098" y="738" font-size="19.5" fill="#141414" letter-spacing="1.75">服务力量保障</text>
<text x="717" y="996.5" font-size="19.5" fill="#141414" letter-spacing="1.75">文化育人生态</text>
<text x="573.5" y="999.4" font-size="15.3" fill="#4a3055" letter-spacing="1.30">文化育人</text>
<path d="M552.5,974 C537.8,974 532.1,983.7 532.1,995.5 C532.1,1007.6 537.8,1017.5 552.5,1017.5" fill="none" stroke="#0c0c30" stroke-width="2.1" stroke-linecap="butt" stroke-linejoin="round"/>
<path d="M532.1,995.5 L521.8,995.5" fill="none" stroke="#0c0c30" stroke-width="2.3" stroke-linecap="butt" stroke-linejoin="round"/>
<rect x="244" y="969" width="266" height="54" rx="8" ry="8" fill="#fff" stroke="#0c0c30" stroke-width="2.2"/>
<text x="257.5" y="992.2" font-size="15.3" fill="#141414" letter-spacing="1.25">“七个一”文化育人工程</text>
<text x="257.5" y="1011.5" font-size="15.3" fill="#141414" letter-spacing="1.25">“六馆两堂一厅”文化育人平台</text>
<text x="674.5" y="1081" font-size="19.5" fill="#141414" letter-spacing="1.75">产教融合育人生态</text>
<text x="530" y="1061.9" font-size="15.3" fill="#6c2d14" letter-spacing="1.30">科研育人</text>
<text x="530" y="1107.4" font-size="15.3" fill="#6c2d14" letter-spacing="1.30">实践育人</text>
<path d="M510,1035 C495.3,1035 489.6,1055.2 489.6,1080 C489.6,1104.8 495.3,1125 510,1125" fill="none" stroke="#0c0c30" stroke-width="2.1" stroke-linecap="butt" stroke-linejoin="round"/>
<path d="M489.6,1080 L479.3,1080" fill="none" stroke="#0c0c30" stroke-width="2.3" stroke-linecap="butt" stroke-linejoin="round"/>
<rect x="218.5" y="1053" width="248" height="54" rx="8" ry="8" fill="#fff" stroke="#0c0c30" stroke-width="2.2"/>
<text x="234.5" y="1076.9" font-size="15.3" fill="#141414" letter-spacing="1.25">“三线三链三平台”德育体系</text>
<text x="234.5" y="1096.2" font-size="15.3" fill="#141414" letter-spacing="1.25">通过实习、实训开展实践育人</text>
<text x="674.5" y="1183.5" font-size="19.5" fill="#141414" letter-spacing="1.75">网络空间育人生态</text>
<text x="531" y="1187.4" font-size="15.3" fill="#125f75" letter-spacing="1.30">网络育人</text>
<path d="M510,1161 C495.3,1161 489.6,1170.7 489.6,1182.5 C489.6,1194.3 495.3,1204 510,1204" fill="none" stroke="#0c0c30" stroke-width="2.1" stroke-linecap="butt" stroke-linejoin="round"/>
<path d="M489.6,1182.5 L479.3,1182.5" fill="none" stroke="#0c0c30" stroke-width="2.3" stroke-linecap="butt" stroke-linejoin="round"/>
<rect x="268.5" y="1138" width="198" height="90" rx="8" ry="8" fill="#fff" stroke="#0c0c30" stroke-width="2.2"/>
<text x="284.5" y="1161.9" font-size="15.3" fill="#141414" letter-spacing="1.25">建设网络文化平台</text>
<text x="284.5" y="1180.6" font-size="15.3" fill="#141414" letter-spacing="1.25">打造线上网络育人环境</text>
<text x="284.5" y="1199.3" font-size="15.3" fill="#141414" letter-spacing="1.25">举办网络文化活动</text>
<text x="284.5" y="1218" font-size="15.3" fill="#141414" letter-spacing="1.25">创建宣传品牌活动</text>
<text x="1098" y="990.5" font-size="19.5" fill="#141414" letter-spacing="1.75">教育教学生态</text>
<text x="1303.5" y="969.9" font-size="15.3" fill="#125f75" letter-spacing="1.30">课程育人</text>
<text x="1303.5" y="1016.4" font-size="15.3" fill="#125f75" letter-spacing="1.30">实践育人</text>
<path d="M1390,944 C1404.7,944 1410.4,964.2 1410.4,989 C1410.4,1013.8 1404.7,1034 1390,1034" fill="none" stroke="#0c0c30" stroke-width="2.1" stroke-linecap="butt" stroke-linejoin="round"/>
<path d="M1410.4,989 L1420.7,989" fill="none" stroke="#0c0c30" stroke-width="2.3" stroke-linecap="butt" stroke-linejoin="round"/>
<rect x="1433.5" y="934" width="132" height="111" rx="8" ry="8" fill="#fff" stroke="#0c0c30" stroke-width="2.2"/>
<text x="1450" y="957.4" font-size="15.3" fill="#141414" letter-spacing="1.25">建强一个学院</text>
<text x="1450" y="976.6" font-size="15.3" fill="#141414" letter-spacing="1.25">推进三线协同</text>
<text x="1450" y="995.8" font-size="15.3" fill="#141414" letter-spacing="1.25">建设三个工程</text>
<text x="1450" y="1015" font-size="15.3" fill="#141414" letter-spacing="1.25">落实三个行动</text>
<text x="1450" y="1034.2" font-size="15.3" fill="#141414" letter-spacing="1.25">创建一个品牌</text>
<text x="1303.5" y="1082.4" font-size="15.3" fill="#68440c" letter-spacing="1.30">组织育人</text>
<text x="1303.5" y="1128.7" font-size="15.3" fill="#68440c" letter-spacing="1.30">服务育人</text>
<text x="1303.5" y="1174.9" font-size="15.3" fill="#68440c" letter-spacing="1.30">心理育人</text>
<text x="1303.5" y="1221.1" font-size="15.3" fill="#68440c" letter-spacing="1.30">管理育人</text>
<text x="1303.5" y="1267.4" font-size="15.3" fill="#68440c" letter-spacing="1.30">资助育人</text>
<text x="1098" y="1171" font-size="19.5" fill="#141414" letter-spacing="1.75">服务育人生态</text>
<path d="M1390,1056.5 C1404.7,1056.5 1410.4,1096.5 1410.4,1171 C1410.4,1245 1404.7,1285 1390,1285" fill="none" stroke="#0c0c30" stroke-width="2.1" stroke-linecap="butt" stroke-linejoin="round"/>
<path d="M1410.4,1171 L1420.7,1171" fill="none" stroke="#0c0c30" stroke-width="2.3" stroke-linecap="butt" stroke-linejoin="round"/>
<rect x="1433.5" y="1143.5" width="315" height="55" rx="8" ry="8" fill="#fff" stroke="#0c0c30" stroke-width="2.2"/>
<text x="1448.5" y="1166.9" font-size="15.3" fill="#141414" letter-spacing="1.25">“八维递进五力协同”综合服务体系</text>
<text x="1448.5" y="1186.1" font-size="15.3" fill="#141414" letter-spacing="1.25">“八位一体”一站式学生社区管理体系</text>
<text x="629.5" y="1524" font-size="19.5" fill="#141414" letter-spacing="1.75">每支部志愿服务</text>
<text x="472.5" y="1532.9" font-size="15.3" fill="#68440c" letter-spacing="1.30">组织育人</text>
<path d="M452.5,1506.5 C437.8,1506.5 432.1,1516.2 432.1,1528 C432.1,1539.8 437.8,1549.5 452.5,1549.5" fill="none" stroke="#0c0c30" stroke-width="2.1" stroke-linecap="butt" stroke-linejoin="round"/>
<path d="M432.1,1528 L421.8,1528" fill="none" stroke="#0c0c30" stroke-width="2.3" stroke-linecap="butt" stroke-linejoin="round"/>
<rect x="61" y="1473.5" width="348" height="110.5" rx="8" ry="8" fill="#fff" stroke="#0c0c30" stroke-width="2.2"/>
<text x="77.5" y="1497.4" font-size="15.3" fill="#141414" letter-spacing="1.25">一寝室一个党员、一楼层一个党小组</text>
<text x="77.5" y="1516.3" font-size="15.3" fill="#141414" letter-spacing="1.25">一楼栋一个党支部、一片区一个党建工作室</text>
<text x="77.5" y="1535.2" font-size="15.3" fill="#141414" letter-spacing="1.25">法律咨询服务进社区、心理健康辅导进校园</text>
<text x="77.5" y="1554.1" font-size="15.3" fill="#141414" letter-spacing="1.25">教师老带新帮扶、党员带困难学生帮扶</text>
<text x="77.5" y="1573" font-size="15.3" fill="#141414" letter-spacing="1.25">专业课程思政建设、一工会一活动</text>
<text x="629.5" y="1663" font-size="19.5" fill="#141414" letter-spacing="1.75">每部门协同育人</text>
<text x="472.5" y="1648.4" font-size="15.3" fill="#6c2d14" letter-spacing="1.30">组织育人</text>
<text x="472.5" y="1692.4" font-size="15.3" fill="#6c2d14" letter-spacing="1.30">管理育人</text>
<path d="M452.5,1667 C437.8,1667 432.1,1676.5 432.1,1688 C432.1,1700.1 437.8,1710 452.5,1710" fill="none" stroke="#0c0c30" stroke-width="2.1" stroke-linecap="butt" stroke-linejoin="round"/>
<path d="M432.1,1688 L421.8,1688" fill="none" stroke="#0c0c30" stroke-width="2.3" stroke-linecap="butt" stroke-linejoin="round"/>
<rect x="277" y="1652" width="132" height="73" rx="8" ry="8" fill="#fff" stroke="#0c0c30" stroke-width="2.2"/>
<text x="293.5" y="1675.4" font-size="15.3" fill="#141414" letter-spacing="1.25">宣传先进榜样</text>
<text x="293.5" y="1694.4" font-size="15.3" fill="#141414" letter-spacing="1.25">传播正能量</text>
<text x="293.5" y="1713.4" font-size="15.3" fill="#141414" letter-spacing="1.25">品牌活动创建</text>
<text x="609.5" y="1808.5" font-size="19.5" fill="#141414" letter-spacing="1.75">每个企业实习机会</text>
<text x="451" y="1795.9" font-size="15.3" fill="#4a3055" letter-spacing="1.30">实践育人</text>
<text x="451" y="1839.4" font-size="15.3" fill="#4a3055" letter-spacing="1.30">科研育人</text>
<path d="M431,1770 C416.3,1770 410.6,1789.3 410.6,1813 C410.6,1836.9 416.3,1856.5 431,1856.5" fill="none" stroke="#0c0c30" stroke-width="2.1" stroke-linecap="butt" stroke-linejoin="round"/>
<path d="M410.6,1813 L400.3,1813" fill="none" stroke="#0c0c30" stroke-width="2.3" stroke-linecap="butt" stroke-linejoin="round"/>
<rect x="106" y="1786" width="281" height="54" rx="8" ry="8" fill="#fff" stroke="#0c0c30" stroke-width="2.2"/>
<text x="122.5" y="1809.9" font-size="15.3" fill="#141414" letter-spacing="1.25">与企业合作供学生实习实训及就业</text>
<text x="122.5" y="1828.9" font-size="15.3" fill="#141414" letter-spacing="1.25">品牌活动创建</text>
<text x="609.5" y="1940.5" font-size="19.5" fill="#141414" letter-spacing="1.75">每个人的成长档案</text>
<text x="451" y="1927.4" font-size="15.3" fill="#35355c" letter-spacing="1.30">管理育人</text>
<text x="451" y="1971.4" font-size="15.3" fill="#35355c" letter-spacing="1.30">组织育人</text>
<path d="M431,1901.5 C416.3,1901.5 410.6,1921.1 410.6,1945 C410.6,1968.9 416.3,1988.5 431,1988.5" fill="none" stroke="#0c0c30" stroke-width="2.1" stroke-linecap="butt" stroke-linejoin="round"/>
<path d="M410.6,1945 L400.3,1945" fill="none" stroke="#0c0c30" stroke-width="2.3" stroke-linecap="butt" stroke-linejoin="round"/>
<rect x="122.5" y="1908" width="264.5" height="73.5" rx="8" ry="8" fill="#fff" stroke="#0c0c30" stroke-width="2.2"/>
<text x="139" y="1931.9" font-size="15.3" fill="#141414" letter-spacing="1.25">学生个人成长档案</text>
<text x="139" y="1950.7" font-size="15.3" fill="#141414" letter-spacing="1.25">教师和企业导师进行点评和指导</text>
<text x="139" y="1969.5" font-size="15.3" fill="#141414" letter-spacing="1.25">学生制定个人发展规划</text>
<text x="1381" y="1389.6" font-size="15.3" fill="#6c2d14" letter-spacing="1.30">课程育人</text>
<text x="1381" y="1433.6" font-size="15.3" fill="#6c2d14" letter-spacing="1.30">服务育人</text>
<text x="1381" y="1477.3" font-size="15.3" fill="#6c2d14" letter-spacing="1.30">心理育人</text>
<text x="1381" y="1520.9" font-size="15.3" fill="#6c2d14" letter-spacing="1.30">网络育人</text>
<text x="1161" y="1447.5" font-size="19.5" fill="#141414" letter-spacing="1.75">每日成长点滴</text>
<path d="M1467.5,1363 C1482.2,1363 1487.9,1402.6 1487.9,1451 C1487.9,1499.4 1482.2,1539 1467.5,1539" fill="none" stroke="#0c0c30" stroke-width="2.1" stroke-linecap="butt" stroke-linejoin="round"/>
<path d="M1487.9,1451 L1498.2,1451" fill="none" stroke="#0c0c30" stroke-width="2.3" stroke-linecap="butt" stroke-linejoin="round"/>
<rect x="1511" y="1396.5" width="298" height="109.5" rx="8" ry="8" fill="#fff" stroke="#0c0c30" stroke-width="2.2"/>
<text x="1527.5" y="1420.9" font-size="15.3" fill="#141414" letter-spacing="1.25">“每日一赞”、“每日美食制作”</text>
<text x="1527.5" y="1439.5" font-size="15.3" fill="#141414" letter-spacing="1.25">“体美劳科技小知识”学习栏目</text>
<text x="1527.5" y="1458.2" font-size="15.3" fill="#141414" letter-spacing="1.25">“一班级一课堂”教风学风情况</text>
<text x="1527.5" y="1476.8" font-size="15.3" fill="#141414" letter-spacing="1.25">心理健康知识宣传、党支部志愿活动</text>
<text x="1527.5" y="1495.5" font-size="15.3" fill="#141414" letter-spacing="1.25">“一站式”学生社区工作柜台服务</text>
<text x="1381" y="1609.1" font-size="15.3" fill="#68440c" letter-spacing="1.30">课程育人</text>
<text x="1381" y="1652.6" font-size="15.3" fill="#68440c" letter-spacing="1.30">服务育人</text>
<text x="1381" y="1696.6" font-size="15.3" fill="#68440c" letter-spacing="1.30">心理育人</text>
<text x="1381" y="1740.6" font-size="15.3" fill="#68440c" letter-spacing="1.30">网络育人</text>
<text x="1161" y="1666" font-size="19.5" fill="#141414" letter-spacing="1.75">每周活动创建</text>
<path d="M1467.5,1583.5 C1482.2,1583.5 1487.9,1622.7 1487.9,1670.5 C1487.9,1718.6 1482.2,1758 1467.5,1758" fill="none" stroke="#0c0c30" stroke-width="2.1" stroke-linecap="butt" stroke-linejoin="round"/>
<path d="M1487.9,1670.5 L1498.2,1670.5" fill="none" stroke="#0c0c30" stroke-width="2.3" stroke-linecap="butt" stroke-linejoin="round"/>
<rect x="1511" y="1607" width="331.5" height="128" rx="8" ry="8" fill="#fff" stroke="#0c0c30" stroke-width="2.2"/>
<text x="1527.5" y="1629.9" font-size="15.3" fill="#141414" letter-spacing="1.25">学术沙龙、主题班会、党团日活动</text>
<text x="1527.5" y="1648.7" font-size="15.3" fill="#141414" letter-spacing="1.25">校园文化活动、法律咨询服务、企业交流</text>
<text x="1527.5" y="1667.5" font-size="15.3" fill="#141414" letter-spacing="1.25">“师说”栏目、“校园之星”栏目</text>
<text x="1527.5" y="1686.3" font-size="15.3" fill="#141414" letter-spacing="1.25">教学研讨、集体备课、青年教师座谈会</text>
<text x="1527.5" y="1705.1" font-size="15.3" fill="#141414" letter-spacing="1.25">老教师、老党员指导新教师</text>
<text x="1527.5" y="1723.9" font-size="15.3" fill="#141414" letter-spacing="1.25">学业导师导学、辅导员督学</text>
<text x="1381" y="1828.2" font-size="15.3" fill="#4f5a13" letter-spacing="1.30">课程育人</text>
<text x="1381" y="1872.2" font-size="15.3" fill="#4f5a13" letter-spacing="1.30">服务育人</text>
<text x="1381" y="1916.2" font-size="15.3" fill="#4f5a13" letter-spacing="1.30">文化育人</text>
<text x="1161" y="1864.5" font-size="19.5" fill="#141414" letter-spacing="1.75">每月文化节庆</text>
<path d="M1467.5,1803.5 C1482.2,1803.5 1487.9,1832.8 1487.9,1868.5 C1487.9,1904.2 1482.2,1933.5 1467.5,1933.5" fill="none" stroke="#0c0c30" stroke-width="2.1" stroke-linecap="butt" stroke-linejoin="round"/>
<path d="M1487.9,1868.5 L1498.2,1868.5" fill="none" stroke="#0c0c30" stroke-width="2.3" stroke-linecap="butt" stroke-linejoin="round"/>
<rect x="1511" y="1803.5" width="348" height="129" rx="8" ry="8" fill="#fff" stroke="#0c0c30" stroke-width="2.2"/>
<text x="1527.5" y="1827.4" font-size="15.3" fill="#141414" letter-spacing="1.25">“学风优良之星”、“实践之星”栏目</text>
<text x="1527.5" y="1846.3" font-size="15.3" fill="#141414" letter-spacing="1.25">宣传竞赛、讲座、展览、校企合作</text>
<text x="1527.5" y="1865.2" font-size="15.3" fill="#141414" letter-spacing="1.25">举办各类竞赛、讲座、展览、主题文化节庆</text>
<text x="1527.5" y="1884.1" font-size="15.3" fill="#141414" letter-spacing="1.25">实验室安全检查、楼栋安全检查</text>
<text x="1527.5" y="1903" font-size="15.3" fill="#141414" letter-spacing="1.25">毕业生就业指导、活动品牌创建</text>
<text x="1527.5" y="1921.9" font-size="15.3" fill="#141414" letter-spacing="1.25">企业专家或技术人员来校讲座</text>
<text x="1381" y="2004.1" font-size="15.3" fill="#125f75" letter-spacing="1.30">实践育人</text>
<text x="1381" y="2047.6" font-size="15.3" fill="#125f75" letter-spacing="1.30">文化育人</text>
<text x="1161" y="2018" font-size="19.5" fill="#141414" letter-spacing="1.75">每年创新大赛</text>
<path d="M1467.5,1978.5 C1482.2,1978.5 1487.9,1998.1 1487.9,2022 C1487.9,2045.9 1482.2,2065.5 1467.5,2065.5" fill="none" stroke="#0c0c30" stroke-width="2.1" stroke-linecap="butt" stroke-linejoin="round"/>
<path d="M1487.9,2022 L1498.2,2022" fill="none" stroke="#0c0c30" stroke-width="2.3" stroke-linecap="butt" stroke-linejoin="round"/>
<rect x="1511" y="1985.5" width="281.5" height="73" rx="8" ry="8" fill="#fff" stroke="#0c0c30" stroke-width="2.2"/>
<text x="1527.5" y="2008.9" font-size="15.3" fill="#141414" letter-spacing="1.25">创新设计大赛、科技节活动</text>
<text x="1527.5" y="2027.9" font-size="15.3" fill="#141414" letter-spacing="1.25">校园文化节、艺术文化节、校运会</text>
<text x="1527.5" y="2046.9" font-size="15.3" fill="#141414" letter-spacing="1.25">创建活动品牌</text>
</g>
<g>
<rect x="884" y="334.6" width="173.2" height="73" rx="8.5" ry="8.5" fill="#fff" stroke="#0c0c30" stroke-width="3.4"/>
<text x="900.8" y="383.4" font-size="34" fill="#0c0c30" letter-spacing="1.20">一基融汇</text>
<rect x="884" y="641.3" width="173.2" height="72" rx="8.5" ry="8.5" fill="#fff" stroke="#0c0c30" stroke-width="3.4"/>
<text x="900.8" y="689.6" font-size="34" fill="#0c0c30" letter-spacing="1.20">五力协同</text>
<rect x="885" y="1060.5" width="172.8" height="72.3" rx="8.5" ry="8.5" fill="#fff" stroke="#0c0c30" stroke-width="3.4"/>
<text x="901.6" y="1108.9" font-size="34" fill="#0c0c30" letter-spacing="1.20">五维融合</text>
<rect x="862.5" y="1712" width="216" height="82" rx="8.5" ry="8.5" fill="#fff" stroke="#0c0c30" stroke-width="3.4"/>
<text x="900.7" y="1765.3" font-size="34" fill="#0c0c30" letter-spacing="1.20">八美融通</text>
</g>
</svg>
</body></html>
